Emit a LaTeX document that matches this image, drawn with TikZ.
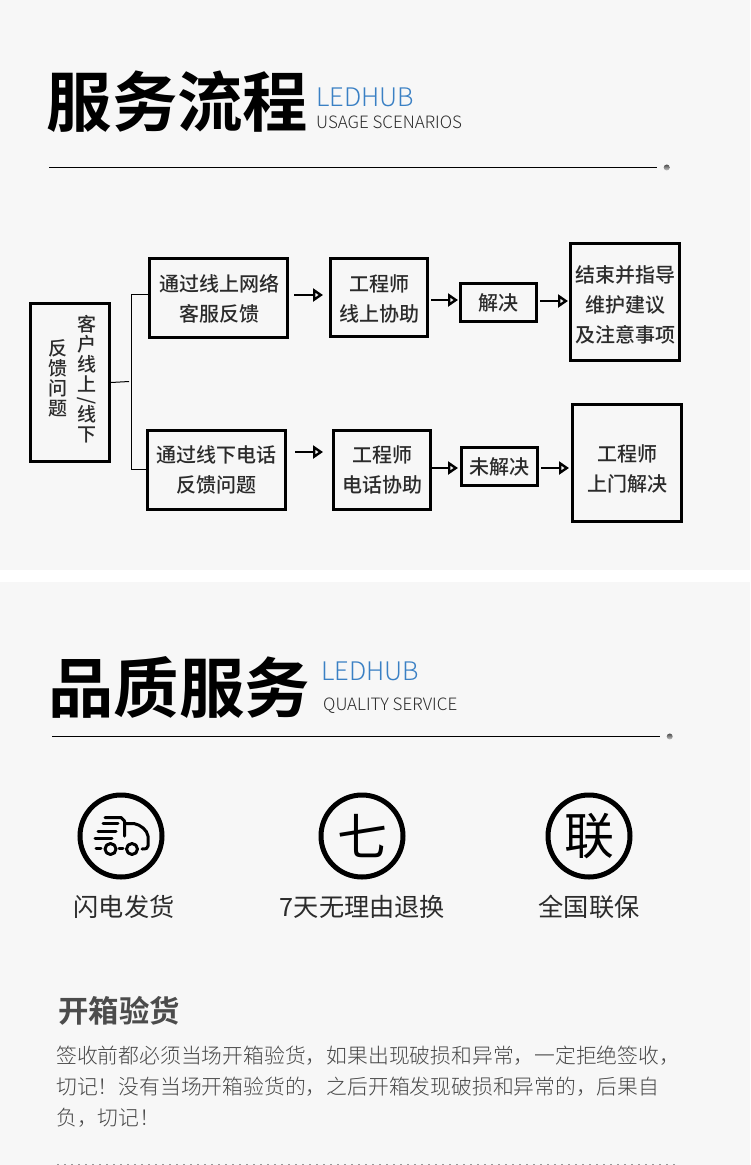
\documentclass[tikz,border=0pt]{standalone}
\usepackage{fontspec}
\usetikzlibrary{arrows.meta}
\setmainfont{Noto Sans CJK SC}[BoldFont={Noto Sans CJK SC Bold}]
\newfontfamily\cjkreg{Noto Sans CJK SC}
\newfontfamily\cjkbold{Noto Sans CJK SC Bold}
\newfontfamily\cjkmed{Noto Sans CJK SC Medium}
\newfontfamily\cjklight{Noto Sans CJK SC Light}
\newcommand\dn[1]{\rule{0pt}{\dimexpr17.6pt+#1\relax}}
\definecolor{bgc}{HTML}{F7F7F7}
\definecolor{ink}{HTML}{2B2B2B}
\definecolor{bluec}{HTML}{3A80C4}
\tikzset{
 flowbox/.style={draw=black,line width=3pt,inner sep=0pt,align=center,text=ink,font=\fontsize{20}{30}\cjkmed\selectfont},
 flowarrow/.style={line width=2.6pt,draw=black,-{Triangle[open,fill=bgc,length=10pt,width=13pt,line width=2.4pt]}},
 bracket/.style={line width=1pt,draw=black},
 titletext/.style={inner sep=0pt,font=\fontsize{65.4}{66}\cjkbold\selectfont,text=black},
 bluetext/.style={anchor=west,inner sep=0pt,font=\fontsize{25.6}{26}\cjklight\selectfont,text=bluec},
 subtext/.style={anchor=west,inner sep=0pt,font=\fontsize{17}{17}\cjklight\selectfont,text=ink},
 rule/.style={line width=1pt,draw=black},
 iconring/.style={draw=black,circle,line width=5pt,minimum size=82pt,inner sep=0pt,font=\fontsize{50}{50}\cjkreg\selectfont,text=black},
 iconlabel/.style={inner sep=0pt,font=\fontsize{25.2}{26}\cjkreg\selectfont,text=ink},
 truck/.style={line width=3pt,draw=black,line cap=round,line join=round},
 vcol/.style={inner sep=0pt,align=center,text=ink,font=\fontsize{19}{20}\cjkmed\selectfont},
}
\begin{document}
\begin{tikzpicture}[x=1pt,y=-1pt]
\useasboundingbox (0,0) rectangle (750,1165);
\fill[bgc] (0,0) rectangle (750,570);
\fill[white] (0,570) rectangle (750,582);
\fill[bgc] (0,582) rectangle (750,1165);
% header 1
\node[titletext] (t1) at (177.5,102) {服务流程};
\node[bluetext] (t1a) at (316,97) {LEDHUB};
\node[subtext] (t1b) at (316,122) {USAGE SCENARIOS};
\coordinate (r1a) at (49,167.5); \coordinate (r1b) at (657,167.5);
\draw[rule] (r1a) -- (r1b);
\shade[top color=black!70,bottom color=black!20] (666.7,167.5) circle (3);
% flow
\node[flowbox,minimum width=79pt,minimum height=158pt] (q) at (70,382.5) {};
\node[vcol] (q1) at (87,379) {客\\户\\线\\上\\[-7pt]\rotatebox{90}{/}\\[-3pt]线\\下};
\node[vcol] (q2) at (58,378) {反\\馈\\问\\题};
\node[flowbox,minimum width=138pt,minimum height=79pt] (a1) at (218.5,298) {\dn{2pt}\hspace{2pt}通过线上网络\\\hspace{2pt}客服反馈};
\node[flowbox,minimum width=97pt,minimum height=78pt] (a2) at (379,297) {\dn{3pt}工程师\\线上协助};
\node[flowbox,minimum width=76pt,minimum height=38pt] (a3) at (498.5,302.5) {解决};
\node[flowbox,minimum width=109pt,minimum height=117pt] (a4) at (625,302) {\dn{5pt}结束并指导\\维护建议\\及注意事项};
\node[flowbox,minimum width=138pt,minimum height=79pt] (b1) at (216.5,470) {通过线下电话\\反馈问题};
\node[flowbox,minimum width=97pt,minimum height=79pt] (b2) at (382,470) {工程师\\电话协助};
\node[flowbox,minimum width=76pt,minimum height=38pt] (b3) at (499.5,466.5) {未解决};
\node[flowbox,minimum width=109pt,minimum height=117pt] (b4) at (627,463) {\dn{12pt}工程师\\上门解决};
\draw[flowarrow] ([shift={(5,-3)}]a1.east) -- ([shift={(-6,-2)}]a2.west);
\draw[flowarrow] ([shift={(2,3)}]a2.east) -- ([shift={(-1,-2.5)}]a3.west);
\draw[flowarrow] ([shift={(2,-1.5)}]a3.east) -- ([shift={(-1,-1)}]a4.west);
\draw[flowarrow] ([shift={(8,-18)}]b1.east) -- ([shift={(-9,-18)}]b2.west);
\draw[flowarrow] ([shift={(0,-2)}]b2.east) -- ([shift={(-2,1.5)}]b3.west);
\draw[flowarrow] ([shift={(2,1.5)}]b3.east) -- ([shift={(-2,5)}]b4.west);
\coordinate (stub) at (129,381.5);
\draw[bracket] (q.east) -- (stub);
\draw[bracket] ([yshift=4pt]a1.west) -| (131.5,469) -- (b1.west |- 0,469);
% header 2
\node[titletext] (t2) at (179,687) {品质服务};
\node[bluetext] (t2a) at (321,671) {LEDHUB};
\node[subtext] (t2b) at (323,705.5) {QUALITY SERVICE};
\coordinate (r2a) at (52,736.5); \coordinate (r2b) at (660,736.5);
\draw[rule] (r2a) -- (r2b);
\shade[top color=black!70,bottom color=black!20] (669.7,736.5) circle (3);
% icons
\node[iconring] (i1) at (121,836) {};
\draw[truck] (105,817.5) -- (121,817.5) -- (124.5,821) -- (124.5,836);
\draw[truck] (125,823.5) -- (134,823.5) .. controls (141,825) and (147,830) .. (148,836) -- (148,846) .. controls (148,848.5) and (146,849) .. (142,849);
\draw[truck] (103,823.8) -- (118,823.8);
\draw[truck] (98,831) -- (116,831);
\draw[truck] (95,838) -- (112,838);
\draw[truck] (96,848) -- (101,848);
\draw[truck] (119,848) -- (123,848);
\draw[truck] (110.5,849) circle (5.5);
\draw[truck] (132,849) circle (5.5);
\node[iconring] (i2) at (362,836) {七};
\node[iconring] (i3) at (589,836) {联};
\node[iconlabel] (l1) at (124,907) {闪电发货};
\node[iconlabel] (l2) at (362.5,907) {7天无理由退换};
\node[iconlabel] (l3) at (589,907) {全国联保};
% text
\node[anchor=west,inner sep=0pt,font=\fontsize{30.4}{31}\bfseries\selectfont,text=black!70] (h) at (58,1011) {开箱验货};
\node[anchor=north west,inner sep=0pt,align=left,font=\fontsize{20.8}{31}\cjklight\selectfont,text=black!72] (body) at (56,1045.5) {签收前都必须当场开箱验货，如果出现破损和异常，一定拒绝签收，\\切记！没有当场开箱验货的，之后开箱发现破损和异常的，后果自\\负，切记！};
\coordinate (d1) at (57,1164.5); \coordinate (d2) at (677,1164.5);
\draw[line width=1.5pt,draw=black!40,dash pattern=on 2pt off 5pt] (d1) -- (d2);
\end{tikzpicture}
\end{document}
